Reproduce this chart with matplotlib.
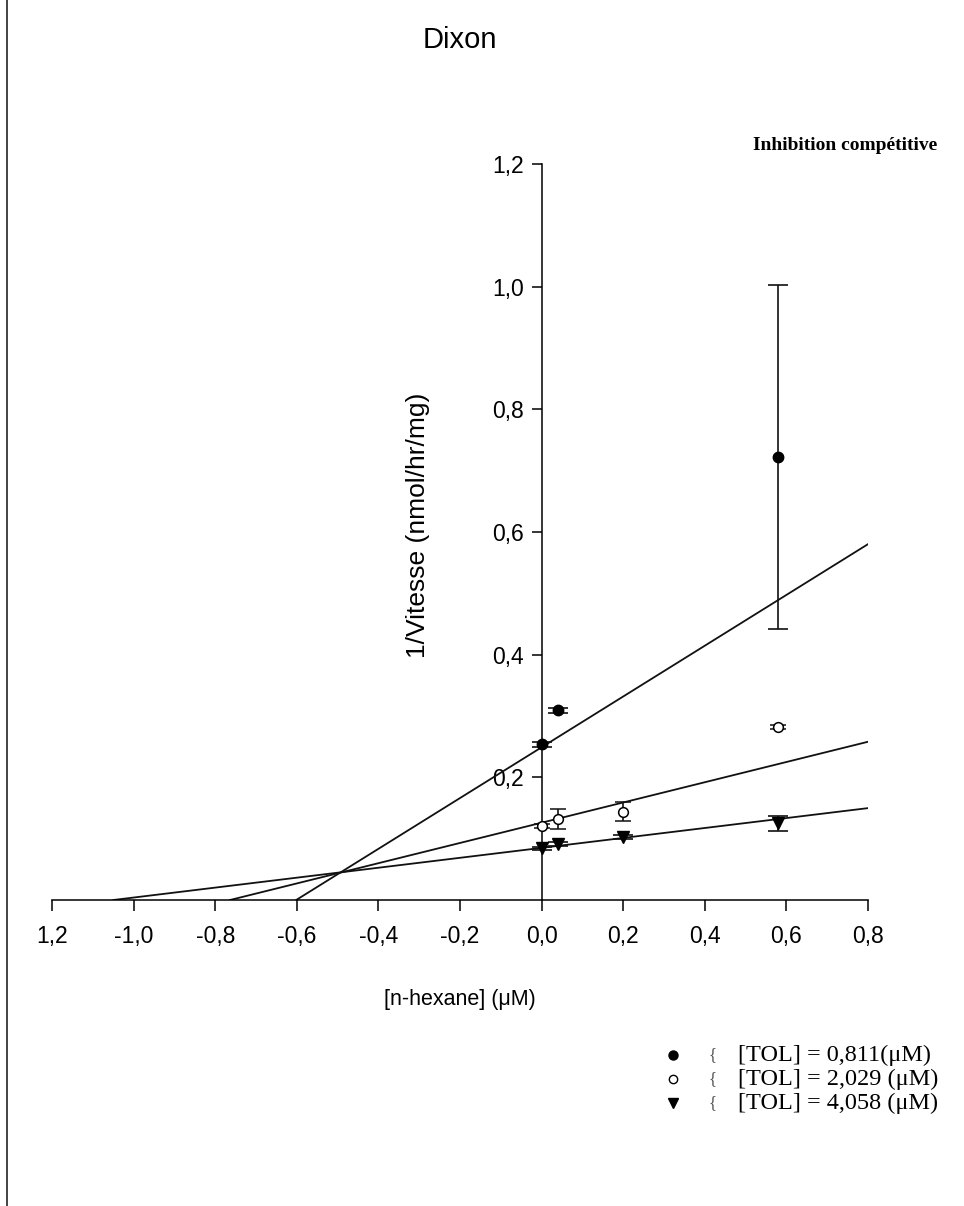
import matplotlib
matplotlib.use("Agg")
import matplotlib.pyplot as plt
from matplotlib.lines import Line2D
import numpy as np

# ---- data ----
x_ticks = [-1.2, -1.0, -0.8, -0.6, -0.4, -0.2, 0.0, 0.2, 0.4, 0.6, 0.8]
x_tick_labels = ["1,2", "-1,0", "-0,8", "-0,6", "-0,4", "-0,2", "0,0", "0,2", "0,4", "0,6", "0,8"]
y_ticks = [0.2, 0.4, 0.6, 0.8, 1.0, 1.2]
y_tick_labels = ["0,2", "0,4", "0,6", "0,8", "1,0", "1,2"]

x_tol1 = [0.0, 0.04, 0.58]
y_tol1 = [0.254, 0.309, 0.722]
e_tol1 = [0.004, 0.004, 0.28]

x_tol2 = [0.0, 0.04, 0.2, 0.58]
y_tol2 = [0.121, 0.132, 0.144, 0.282]
e_tol2 = [0.003, 0.016, 0.015, 0.003]

x_tol3 = [0.0, 0.04, 0.2, 0.58]
y_tol3 = [0.084, 0.091, 0.103, 0.125]
e_tol3 = [0.003, 0.003, 0.003, 0.012]

# fitted lines: intercept and slope
fit_intercepts = [0.249, 0.126, 0.085]
fit_slopes = [0.414, 0.165, 0.081]

legend_labels = ["[TOL] = 0,811(\u03bcM)", "[TOL] = 2,029 (\u03bcM)", "[TOL] = 4,058 (\u03bcM)"]

# ---- figure ----
W, H = 964, 1206
fig = plt.figure(figsize=(W / 100, H / 100), dpi=100)
sans = ["Liberation Sans", "DejaVu Sans"]
serif = ["Liberation Serif", "DejaVu Serif"]

ax = fig.add_axes([52 / W, 1 - 900 / H, (868 - 52) / W, (900 - 164) / H])
ax.set_xlim(-1.2, 0.8)
ax.set_ylim(0, 1.2)
ax.patch.set_alpha(0)
for s in ["top", "right"]:
    ax.spines[s].set_visible(False)
ax.spines["left"].set_position(("data", 0))
ax.spines["left"].set_bounds(0, 1.2)
ax.spines["left"].set_linewidth(1.1)
ax.spines["bottom"].set_linewidth(1.1)

ax.set_xticks(x_ticks)
ax.set_xticklabels(x_tick_labels, fontfamily=sans, fontsize=16.5)
ax.set_yticks(y_ticks)
ax.set_yticklabels(y_tick_labels, fontfamily=sans, fontsize=16.5)
ax.tick_params(axis="x", direction="out", length=8, width=1.1, color="black", pad=10)
ax.tick_params(axis="y", direction="out", length=7, width=1.1, color="black", pad=6)

# fitted lines
for b, m in zip(fit_intercepts, fit_slopes):
    x0 = -b / m
    xs = np.array([x0, 0.8])
    ax.plot(xs, b + m * xs, color="#111111", lw=1.3, zorder=2)

ekw = dict(ecolor="#111111", elinewidth=1.2, capthick=1.2, linestyle="none", zorder=3)
ax.errorbar(x_tol1, y_tol1, yerr=e_tol1, marker="o", ms=7.5, mfc="black", mec="black", capsize=7, **ekw)
ax.errorbar(x_tol2, y_tol2, yerr=e_tol2, marker="o", ms=7, mfc="white", mec="black", mew=1.1, capsize=6, **ekw)
ax.errorbar(x_tol3, y_tol3, yerr=e_tol3, marker="v", ms=8.5, mfc="black", mec="black", capsize=7, **ekw)

# texts
fig.text(460 / W, 1 - 40 / H, "Dixon", fontfamily=sans, fontsize=21, ha="center", va="center")
fig.text(937 / W, 1 - 145 / H, "Inhibition compétitive", fontfamily=serif, fontsize=14,
         fontweight="bold", ha="right", va="center")
fig.text(460 / W, 1 - 1000 / H, "[n-hexane] (\u03bcM)", fontfamily=sans, fontsize=15.5, ha="center", va="center")
fig.text(418 / W, 1 - 525 / H, "1/Vitesse (nmol/hr/mg)", fontfamily=sans, fontsize=19,
         rotation=90, ha="center", va="center")

# legend (manual)
rows_y = [1055, 1079, 1103]
mk = [dict(marker="o", mfc="black", mec="black", ms=6.5),
      dict(marker="o", mfc="white", mec="black", ms=6, mew=1.0),
      dict(marker="v", mfc="black", mec="black", ms=7.5)]
for yy, lab, m in zip(rows_y, legend_labels, mk):
    fig.add_artist(Line2D([673 / W], [1 - yy / H], transform=fig.transFigure, linestyle="none", **m))
    fig.text(712 / W, 1 - yy / H, "{", fontfamily=serif, fontsize=12, color="#555555", ha="center", va="center")
    fig.text(738 / W, 1 - yy / H, lab, fontfamily=serif, fontsize=17.5, ha="left", va="center")

# left border line
fig.add_artist(Line2D([7 / W, 7 / W], [0, 1], transform=fig.transFigure, color="#222222", lw=1.2))

fig.savefig("out.png", dpi=100)
